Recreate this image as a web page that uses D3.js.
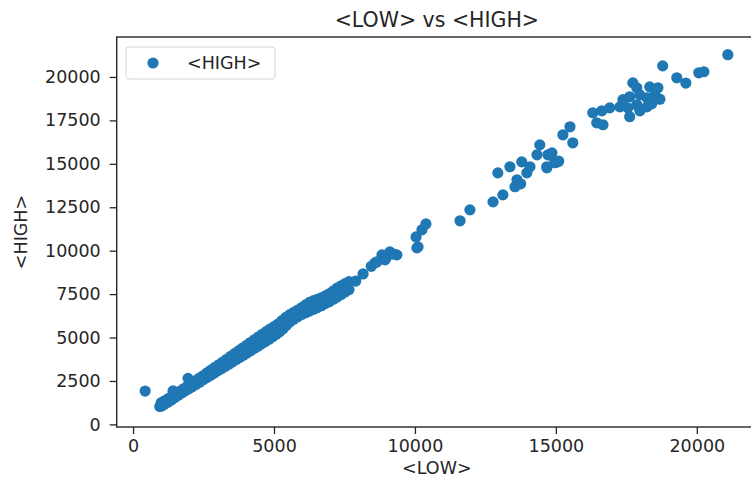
<!DOCTYPE html>
<html>
<head>
<meta charset="utf-8">
<script src="https://cdn.jsdelivr.net/npm/d3@7"></script>
<style>
  body { margin: 0; background: #ffffff; }
  text { font-family: "DejaVu Sans", sans-serif; fill: #262626; }
</style>
</head>
<body>
<div id="scatter-chart-div"></div>
<script>
// [LOW, HIGH] pairs
const outlierPoints = [[430, 1920]];

const bandLowerEdge = [
  [950, 1030], [1010, 1060], [1100, 1140], [1230, 1270], [1360, 1400], [1480, 1540],
  [1600, 1680], [1730, 1800], [1850, 1930], [1980, 2050], [2100, 2170], [2230, 2300],
  [2360, 2430], [2490, 2570], [2620, 2690], [2750, 2820], [2880, 2950], [3000, 3080],
  [3130, 3200], [3260, 3330], [3390, 3460], [3520, 3590], [3650, 3720], [3780, 3850],
  [3910, 3980], [4040, 4110], [4170, 4240], [4300, 4380], [4430, 4500], [4560, 4640],
  [4690, 4770], [4820, 4900], [4950, 5040], [5080, 5190], [5200, 5330], [5320, 5500],
  [5440, 5700], [5560, 5890], [5700, 6050], [5840, 6200], [5980, 6330], [6120, 6430],
  [6260, 6520], [6400, 6620], [6540, 6720], [6680, 6830], [6820, 6950], [6960, 7060],
  [7100, 7200], [7240, 7330], [7380, 7470], [7520, 7620], [7660, 7760]
];

const bandUpperEdge = [
  [1000, 1250], [1120, 1360], [1250, 1490], [1380, 1620], [1520, 1770], [1650, 1900],
  [1790, 2050], [1920, 2190], [2060, 2350], [2200, 2500], [2340, 2650], [2480, 2800],
  [2620, 2960], [2760, 3120], [2900, 3280], [3040, 3430], [3180, 3590], [3320, 3750],
  [3460, 3910], [3600, 4070], [3740, 4230], [3880, 4390], [4020, 4550], [4160, 4710],
  [4300, 4870], [4440, 5030], [4580, 5190], [4720, 5340], [4860, 5490], [5000, 5630],
  [5140, 5780], [5280, 5970], [5420, 6160], [5560, 6320], [5700, 6450], [5840, 6580],
  [5980, 6720], [6120, 6880], [6260, 7020], [6400, 7120], [6540, 7200], [6680, 7290],
  [6820, 7400], [6960, 7520], [7100, 7680], [7240, 7850], [7380, 7980], [7520, 8100],
  [7660, 8220]
];

const bandBumps = [[1418, 1924], [1950, 2650]];

const midRangePoints = [
  [7900, 8250], [8160, 8660], [8450, 9100], [8580, 9300], [8650, 9350], [8830, 9760],
  [8940, 9470], [9000, 9650], [9110, 9930], [9250, 9800], [9360, 9760],
  [10070, 10160], [10110, 10220], [10040, 10790], [10250, 11200], [10390, 11540],
  [11600, 11720], [11950, 12350], [12770, 12810], [13120, 13210], [12940, 14480],
  [13370, 14830], [13620, 14080], [13790, 15110], [13970, 14480], [14080, 14830],
  [13750, 13850], [13550, 13680], [14330, 15520], [14430, 16090], [14720, 15520],
  [14860, 15630], [14680, 14770], [14960, 15060], [15100, 15150], [14790, 15520],
  [15040, 15100], [14680, 14830]
];

const upperRangePoints = [
  [15250, 16670], [15600, 16210], [15500, 17130], [16310, 17940], [16450, 17360],
  [16670, 17250], [16630, 18050], [16910, 18220], [17270, 18280], [17380, 18690],
  [17550, 18220], [17620, 18860], [17620, 17710], [17730, 19660], [17870, 18400],
  [17870, 19380], [17980, 18970], [17980, 18050], [18230, 18800], [18230, 18280],
  [18330, 19430], [18400, 18450], [18510, 18970], [18620, 19380], [18690, 18720],
  [18790, 20640], [19290, 19950], [19610, 19650], [20070, 20240], [20250, 20300],
  [21100, 21280]
];

const xTicks = [0, 5000, 10000, 15000, 20000];
const yTicks = [0, 2500, 5000, 7500, 10000, 12500, 15000, 17500, 20000];

function createScatterChart() {
  const width = 751;
  const height = 479;
  const plot = { left: 116.7, right: 757, top: 37, bottom: 427 };
  const pointColor = '#1f77b4';

  const allPoints = [].concat(outlierPoints, bandLowerEdge, bandUpperEdge, bandBumps,
    midRangePoints, upperRangePoints);

  const svg = d3.select('#scatter-chart-div')
    .append('svg')
    .attr('width', width)
    .attr('height', height)
    .style('display', 'block')
    .style('background-color', '#ffffff');

  const x = d3.scaleLinear().domain([-580, 22135]).range([plot.left, plot.right]);
  const y = d3.scaleLinear().domain([-150, 22300]).range([plot.bottom, plot.top]);

  // --- Points ---
  svg.append('g')
    .selectAll('circle')
    .data(allPoints)
    .enter().append('circle')
    .attr('cx', d => x(d[0]))
    .attr('cy', d => y(d[1]))
    .attr('r', 5.6)
    .attr('fill', pointColor);

  // --- Axes ---
  const xAxis = d3.axisBottom(x).tickValues(xTicks).tickSize(7).tickPadding(6)
    .tickFormat(d3.format('d'));
  const yAxis = d3.axisLeft(y).tickValues(yTicks).tickSize(7).tickPadding(9)
    .tickFormat(d3.format('d'));

  const gx = svg.append('g')
    .attr('transform', `translate(0, ${plot.bottom})`)
    .call(xAxis);
  const gy = svg.append('g')
    .attr('transform', `translate(${plot.left}, 0)`)
    .call(yAxis);

  [gx, gy].forEach(g => {
    g.select('.domain').remove();
    g.selectAll('.tick line').attr('stroke', '#262626').attr('stroke-width', 1.3);
    g.selectAll('.tick text')
      .style('font-size', '17.5px')
      .style('font-family', '"DejaVu Sans", sans-serif')
      .attr('fill', '#262626');
  });

  // --- Spines ---
  svg.append('rect')
    .attr('x', plot.left)
    .attr('y', plot.top)
    .attr('width', plot.right - plot.left)
    .attr('height', plot.bottom - plot.top)
    .attr('fill', 'none')
    .attr('stroke', '#262626')
    .attr('stroke-width', 1.4);

  // --- Title and labels ---
  svg.append('text')
    .attr('x', (plot.left + plot.right) / 2)
    .attr('y', 27)
    .attr('text-anchor', 'middle')
    .style('font-size', '20.5px')
    .text('<LOW> vs <HIGH>');

  svg.append('text')
    .attr('x', (plot.left + plot.right) / 2)
    .attr('y', 474)
    .attr('text-anchor', 'middle')
    .style('font-size', '17.5px')
    .text('<LOW>');

  svg.append('text')
    .attr('transform', `translate(27, ${(plot.top + plot.bottom) / 2}) rotate(-90)`)
    .attr('text-anchor', 'middle')
    .style('font-size', '17.5px')
    .text('<HIGH>');

  // --- Legend ---
  const legend = svg.append('g').attr('transform', 'translate(126, 47)');
  legend.append('rect')
    .attr('width', 149)
    .attr('height', 32)
    .attr('rx', 3)
    .attr('fill', '#ffffff')
    .attr('fill-opacity', 0.8)
    .attr('stroke', '#d6d6d6')
    .attr('stroke-width', 1);
  legend.append('circle')
    .attr('cx', 27)
    .attr('cy', 16)
    .attr('r', 5.6)
    .attr('fill', pointColor);
  legend.append('text')
    .attr('x', 61)
    .attr('y', 22)
    .style('font-size', '17.5px')
    .text('<HIGH>');
}

createScatterChart();
</script>
</body>
</html>
